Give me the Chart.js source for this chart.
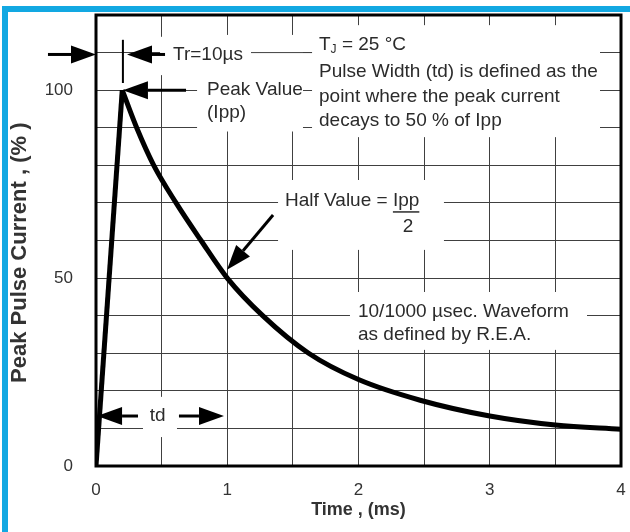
<!DOCTYPE html>
<html>
<head>
<meta charset="utf-8">
<script src="https://cdn.jsdelivr.net/npm/chart.js@4.4.1/dist/chart.umd.min.js"></script>
<style>
  html,body{margin:0;padding:0;background:#fff;overflow:hidden;}
  .frame{position:absolute;left:2px;top:6px;width:640px;height:540px;border-left:6px solid #12a8e2;border-top:6px solid #12a8e2;box-sizing:border-box;}
  #chart{position:absolute;left:0;top:0;}
</style>
</head>
<body>
<div class="frame"></div>
<canvas id="chart" width="630" height="532"></canvas>
<script>
// 10/1000 us pulse (time in ms, current in % of Ipp)
const riseTime = [0, 0.2];
const riseCurrent = [0, 100];
const decayTime = [0.2, 0.31, 0.44, 0.61, 0.80, 1.0, 1.27, 1.62, 2.0, 2.47, 3.0, 3.5, 4.0];
const decayCurrent = [100, 90, 80, 70, 60, 50, 40, 30, 23, 17.5, 13.3, 10.9, 9.8];
const xTickLabels = [0, 1, 2, 3, 4];
const yTickLabels = [0, 50, 100];

const ink = '#2b2b2b';
const gridColor = '#404040';
const textFont = '19px "Liberation Sans", Arial, sans-serif';

function toPoints(xs, ys){ return xs.map((x,i)=>({x, y: ys[i]})); }

function arrow(ctx, x1, y1, x2, y2){ // tail -> tip
  const a = Math.atan2(y2-y1, x2-x1);
  const head = 25, half = 9;
  const bx = x2 - head*Math.cos(a), by = y2 - head*Math.sin(a);
  ctx.lineWidth = 3; ctx.strokeStyle = '#000'; ctx.fillStyle = '#000';
  ctx.beginPath(); ctx.moveTo(x1,y1); ctx.lineTo(bx,by); ctx.stroke();
  ctx.beginPath(); ctx.moveTo(x2,y2);
  ctx.lineTo(bx + half*Math.sin(a), by - half*Math.cos(a));
  ctx.lineTo(bx - half*Math.sin(a), by + half*Math.cos(a));
  ctx.closePath(); ctx.fill();
}

// white boxes behind the notes, in data units [t0, t1, v0, v1]
const noteBoxes = [
  [0.488, 1.181, 114.2, 104.0],
  [0.770, 1.577, 114.7, 89.0],
  [1.646, 3.840, 117.3, 87.5],
  [1.387, 2.651, 76.1, 57.5],
  [1.935, 3.741, 46.3, 30.9],
  [0.358, 0.617, 18.4, 7.7]
];
// arrows [tailT, tailV, tipT, tipV]
const noteArrows = [
  [-0.366, 109.5, 0, 109.5],
  [0.526, 109.5, 0.236, 109.5],
  [0.686, 100, 0.205, 100],
  [1.349, 66.8, 0.998, 52.2],
  [0.32, 13.3, 0.008, 13.3],
  [0.632, 13.3, 0.975, 13.3]
];

const notes = {
  id: 'notes',
  beforeDatasetsDraw(chart){
    const {ctx, scales:{x, y}} = chart;
    ctx.save();
    ctx.fillStyle = '#fff';
    noteBoxes.forEach(([t0,t1,v0,v1])=>{
      const px0 = x.getPixelForValue(t0), px1 = x.getPixelForValue(t1);
      const py0 = y.getPixelForValue(v0), py1 = y.getPixelForValue(v1);
      ctx.fillRect(px0, py0, px1-px0, py1-py0);
    });
    // leader line after Tr text
    ctx.strokeStyle = gridColor; ctx.lineWidth = 1;
    ctx.beginPath();
    ctx.moveTo(x.getPixelForValue(1.181), y.getPixelForValue(110));
    ctx.lineTo(x.getPixelForValue(1.646), y.getPixelForValue(110));
    ctx.stroke();
    ctx.restore();
  },
  afterDatasetsDraw(chart){
    const {ctx, chartArea:a, scales:{x, y}} = chart;
    const X = v=>x.getPixelForValue(v), Y = v=>y.getPixelForValue(v);
    ctx.save();
    // plot frame
    ctx.strokeStyle = '#000'; ctx.lineWidth = 3;
    ctx.strokeRect(a.left, a.top, a.right-a.left, a.bottom-a.top);

    // peak time marker
    ctx.lineWidth = 2;
    ctx.beginPath(); ctx.moveTo(X(0.205), Y(113.4)); ctx.lineTo(X(0.205), Y(101.9)); ctx.stroke();

    noteArrows.forEach(([t1,v1,t2,v2])=>arrow(ctx, X(t1), Y(v1), X(t2), Y(v2)));

    ctx.fillStyle = ink; ctx.font = textFont; ctx.textBaseline = 'middle'; ctx.textAlign = 'left';
    ctx.fillText('Tr=10µs', X(0.587), Y(109.5));
    ctx.fillText('Peak Value', X(0.846), Y(100));
    ctx.fillText('(Ipp)', X(0.846), Y(93.9));

    // T_J line with subscript
    let tx = X(1.699);
    ctx.fillText('T', tx, Y(112)); tx += ctx.measureText('T').width;
    ctx.font = '12px "Liberation Sans", Arial, sans-serif';
    ctx.fillText('J', tx, Y(112)+5); tx += ctx.measureText('J').width;
    ctx.font = textFont;
    ctx.fillText(' = 25 °C', tx, Y(112));
    ctx.fillText('Pulse Width (td) is defined as the', X(1.699), Y(104.8));
    ctx.fillText('point where the peak current', X(1.699), Y(98.2));
    ctx.fillText('decays to 50 % of Ipp', X(1.699), Y(91.8));

    // Half Value = Ipp / 2
    let hx = X(1.44);
    ctx.fillText('Half Value = ', hx, Y(70.5));
    hx += ctx.measureText('Half Value = ').width;
    const w = ctx.measureText('Ipp').width;
    ctx.fillText('Ipp', hx, Y(70.5));
    ctx.strokeStyle = ink; ctx.lineWidth = 1.5;
    ctx.beginPath(); ctx.moveTo(hx, Y(67.6)); ctx.lineTo(hx+w, Y(67.6)); ctx.stroke();
    ctx.textAlign = 'center';
    ctx.fillText('2', hx + w/2 + 2, Y(63.6));

    ctx.textAlign = 'left';
    ctx.fillText('10/1000 µsec. Waveform', X(1.996), Y(41));
    ctx.fillText('as defined by R.E.A.', X(1.996), Y(34.9));

    ctx.textAlign = 'center';
    ctx.fillText('td', X(0.469), Y(13.3));
    ctx.restore();
  }
};

new Chart(document.getElementById('chart'), {
  type: 'line',
  data: {
    datasets: [
      { data: toPoints(riseTime, riseCurrent), borderColor:'#000', borderWidth:5, pointRadius:0, tension:0 },
      { data: toPoints(decayTime, decayCurrent), borderColor:'#000', borderWidth:5, pointRadius:0, cubicInterpolationMode:'monotone' }
    ]
  },
  options: {
    responsive: false, animation: false, devicePixelRatio: 1,
    layout: { padding: { top: 15, right: 9, left: 0, bottom: 0 } },
    plugins: { legend: { display: false }, tooltip: { enabled: false } },
    scales: {
      x: {
        type: 'linear', min: 0, max: 4,
        afterFit: s => { s.height = 66; s.paddingLeft = 0; s.paddingRight = 0; },
        border: { display: false },
        grid: { color: gridColor, lineWidth: 1, drawTicks: false },
        ticks: {
          stepSize: 0.5, padding: 14, color: '#333', maxRotation: 0, autoSkip: false,
          font: { family: '"Liberation Sans", Arial, sans-serif', size: 17 },
          callback: v => xTickLabels.includes(v) ? String(v) : ''
        },
        title: {
          display: true, text: 'Time , (ms)', color: '#333', padding: { top: 0, bottom: 11 },
          font: { family: '"Liberation Sans", Arial, sans-serif', size: 18, weight: 'bold' }
        }
      },
      y: {
        min: 0, max: 120,
        afterFit: s => { s.width = 96; s.paddingTop = 0; s.paddingBottom = 0; },
        border: { display: false },
        grid: { color: gridColor, lineWidth: 1, drawTicks: false },
        ticks: {
          stepSize: 10, padding: 23, color: '#333', autoSkip: false,
          font: { family: '"Liberation Sans", Arial, sans-serif', size: 17 },
          callback: v => yTickLabels.includes(v) ? String(v) : ''
        },
        title: {
          // trailing spaces nudge the label down, as in the original
          display: true, text: 'Peak Pulse Current , (% )    ', color: '#333', padding: { top: 7, bottom: 0 },
          font: { family: '"Liberation Sans", Arial, sans-serif', size: 22, weight: 'bold' }
        }
      }
    }
  },
  plugins: [notes]
});
</script>
</body>
</html>
